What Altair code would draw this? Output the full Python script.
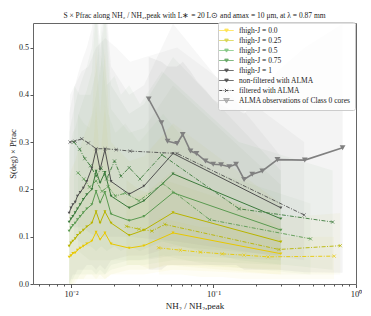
import altair as alt
import pandas as pd

FONT = "Liberation Serif"

series = ["f0", "f025", "f05", "f075", "f1"]
colors = ["#FFD700", "#C8C400", "#4CB04C", "#1E801E", "#000000"]

# ---- non-filtered simulations (solid lines, triangle markers)
x_nf = [0.0097, 0.0100, 0.0103, 0.0107, 0.0111, 0.0116, 0.0122, 0.0129, 0.0140,
        0.0150, 0.0160, 0.0173, 0.0191, 0.0256, 0.0325, 0.052, 0.297]
y_nf_f0 = [0.057, 0.060, 0.065, 0.066, 0.072, 0.076, 0.080, 0.085, 0.091, 0.110, 0.094, 0.108, 0.085, 0.076, 0.081, 0.108, 0.064]
y_nf_f025 = [0.080, 0.087, 0.091, 0.096, 0.103, 0.108, 0.114, 0.121, 0.129, 0.153, 0.129, 0.153, 0.129, 0.103, 0.114, 0.151, 0.089]
y_nf_f05 = [0.112, 0.119, 0.124, 0.129, 0.136, 0.143, 0.151, 0.159, 0.168, 0.196, 0.172, 0.194, 0.148, 0.134, 0.143, 0.193, 0.114]
y_nf_f075 = [0.131, 0.138, 0.143, 0.151, 0.159, 0.168, 0.179, 0.189, 0.200, 0.239, 0.214, 0.236, 0.186, 0.161, 0.176, 0.233, 0.138]
y_nf_f1 = [0.150, 0.161, 0.168, 0.173, 0.186, 0.194, 0.203, 0.217, 0.245, 0.284, 0.242, 0.284, 0.217, 0.190, 0.207, 0.276, 0.161]

# bands (min / max) of the non-filtered simulations
hi_nf_f0 = [0.15, 0.16, 0.17, 0.18, 0.19, 0.20, 0.21, 0.22, 0.25, 0.38, 0.26, 0.38, 0.22, 0.18, 0.19, 0.24, 0.12]
lo_nf_f0 = [0.00, 0.00, 0.00, 0.00, 0.01, 0.01, 0.01, 0.01, 0.01, 0.01, 0.01, 0.01, 0.02, 0.02, 0.02, 0.03, 0.02]
hi_nf_f025 = [0.22, 0.24, 0.25, 0.26, 0.28, 0.29, 0.31, 0.33, 0.36, 0.50, 0.36, 0.50, 0.30, 0.26, 0.27, 0.34, 0.17]
lo_nf_f025 = [0.00, 0.00, 0.00, 0.01, 0.01, 0.01, 0.01, 0.02, 0.02, 0.01, 0.02, 0.01, 0.02, 0.03, 0.03, 0.04, 0.03]
hi_nf_f05 = [0.28, 0.30, 0.32, 0.33, 0.35, 0.37, 0.39, 0.41, 0.45, 0.58, 0.44, 0.58, 0.37, 0.32, 0.33, 0.42, 0.21]
lo_nf_f05 = [0.00, 0.00, 0.01, 0.01, 0.01, 0.02, 0.02, 0.02, 0.02, 0.02, 0.02, 0.02, 0.03, 0.04, 0.04, 0.05, 0.04]
hi_nf_f075 = [0.32, 0.34, 0.36, 0.38, 0.40, 0.42, 0.44, 0.46, 0.50, 0.60, 0.48, 0.60, 0.42, 0.36, 0.38, 0.48, 0.24]
lo_nf_f075 = [0.00, 0.01, 0.01, 0.02, 0.02, 0.02, 0.03, 0.03, 0.03, 0.02, 0.03, 0.02, 0.04, 0.05, 0.05, 0.06, 0.05]
hi_nf_f1 = [0.36, 0.38, 0.40, 0.42, 0.44, 0.46, 0.48, 0.50, 0.54, 0.62, 0.50, 0.62, 0.46, 0.40, 0.42, 0.55, 0.27]
lo_nf_f1 = [0.00, 0.01, 0.02, 0.02, 0.03, 0.03, 0.03, 0.04, 0.04, 0.03, 0.04, 0.03, 0.05, 0.06, 0.06, 0.08, 0.06]

# ---- filtered with ALMA (dash-dot lines, x markers)
x_f_f0 = [0.0412, 0.0586, 0.081, 0.115, 0.164, 0.2416, 0.703]
y_f_f0 = [0.0765, 0.0715, 0.0673, 0.0638, 0.061, 0.0574, 0.0589]
hi_f_f0 = [0.14, 0.13, 0.12, 0.12, 0.11, 0.10, 0.10]
lo_f_f0 = [0.02, 0.02, 0.015, 0.015, 0.01, 0.01, 0.01]

x_f_f025 = [0.0245, 0.0300, 0.0370, 0.0455, 0.288, 0.776]
y_f_f025 = [0.122, 0.116, 0.112, 0.126, 0.073, 0.081]
hi_f_f025 = [0.22, 0.20, 0.19, 0.22, 0.14, 0.15]
lo_f_f025 = [0.04, 0.04, 0.03, 0.04, 0.02, 0.02]

x_f_f05 = [0.0112, 0.0123, 0.0135, 0.0150, 0.0165, 0.0182, 0.0205, 0.0240, 0.0300, 0.0443, 0.094, 0.48]
y_f_f05 = [0.235, 0.222, 0.205, 0.218, 0.196, 0.206, 0.186, 0.192, 0.176, 0.212, 0.136, 0.0955]
hi_f_f05 = [0.36, 0.34, 0.33, 0.40, 0.48, 0.36, 0.32, 0.34, 0.30, 0.36, 0.24, 0.17]
lo_f_f05 = [0.07, 0.06, 0.05, 0.05, 0.05, 0.05, 0.05, 0.05, 0.05, 0.06, 0.04, 0.02]

x_f_f075 = [0.0105, 0.0115, 0.0125, 0.0137, 0.0150, 0.0163, 0.0178, 0.0202, 0.0224, 0.0256, 0.0305, 0.0435, 0.151, 0.686]
y_f_f075 = [0.300, 0.285, 0.265, 0.250, 0.228, 0.245, 0.222, 0.260, 0.228, 0.246, 0.222, 0.273, 0.159, 0.131]
hi_f_f075 = [0.42, 0.40, 0.40, 0.40, 0.45, 0.56, 0.42, 0.44, 0.40, 0.42, 0.38, 0.45, 0.30, 0.24]
lo_f_f075 = [0.10, 0.09, 0.08, 0.08, 0.07, 0.08, 0.07, 0.08, 0.07, 0.08, 0.07, 0.09, 0.05, 0.03]

x_f_f1 = [0.00984, 0.01067, 0.0119, 0.01324, 0.0150, 0.01734, 0.02075, 0.0260, 0.0555, 0.4325]
y_f_f1 = [0.300, 0.302, 0.307, 0.298, 0.286, 0.286, 0.284, 0.281, 0.276, 0.146]
hi_f_f1 = [0.40, 0.42, 0.45, 0.46, 0.50, 0.52, 0.50, 0.47, 0.50, 0.30]
lo_f_f1 = [0.12, 0.12, 0.12, 0.11, 0.10, 0.10, 0.10, 0.10, 0.09, 0.05]

# ---- ALMA observations of Class 0 cores
x_alma = [0.0351, 0.0431, 0.0476, 0.0555, 0.0608, 0.0689, 0.0759, 0.0879, 0.0995,
          0.113, 0.129, 0.144, 0.164, 0.187, 0.220, 0.281, 0.437, 0.805]
y_alma = [0.391, 0.341, 0.302, 0.297, 0.316, 0.281, 0.276, 0.260, 0.253,
          0.252, 0.248, 0.253, 0.221, 0.232, 0.239, 0.263, 0.262, 0.288]
hi_alma = [0.48, 0.47, 0.46, 0.46, 0.47, 0.45, 0.43, 0.41, 0.39,
           0.38, 0.37, 0.37, 0.36, 0.38, 0.41, 0.45, 0.50, 0.55]
lo_alma = [0.03, 0.03, 0.04, 0.04, 0.04, 0.04, 0.04, 0.04, 0.04,
           0.04, 0.04, 0.04, 0.03, 0.03, 0.03, 0.03, 0.025, 0.024]

legend_labels = ["fhigh-J = 0.0", "fhigh-J = 0.25", "fhigh-J = 0.5", "fhigh-J = 0.75",
                 "fhigh-J = 1", "non-filtered with ALMA", "filtered with ALMA",
                 "ALMA observations of Class 0 cores"]
x_ticks = [0.006, 0.007, 0.008, 0.009, 0.01, 0.02, 0.03, 0.04, 0.05, 0.06, 0.07, 0.08, 0.09,
           0.1, 0.2, 0.3, 0.4, 0.5, 0.6, 0.7, 0.8, 0.9, 1]
y_ticks = [0.0, 0.1, 0.2, 0.3, 0.4, 0.5]


def table(xs, ys, his=None, los=None):
    rows = []
    for i, s in enumerate(series):
        for j, xv in enumerate(xs[i]):
            r = {"series": s, "x": xv, "y": ys[i][j]}
            if his is not None:
                r["hi"] = his[i][j]
                r["lo"] = los[i][j]
            rows.append(r)
    return pd.DataFrame(rows)


nf = table([x_nf] * 5, [y_nf_f0, y_nf_f025, y_nf_f05, y_nf_f075, y_nf_f1],
           [hi_nf_f0, hi_nf_f025, hi_nf_f05, hi_nf_f075, hi_nf_f1],
           [lo_nf_f0, lo_nf_f025, lo_nf_f05, lo_nf_f075, lo_nf_f1])
fl = table([x_f_f0, x_f_f025, x_f_f05, x_f_f075, x_f_f1],
           [y_f_f0, y_f_f025, y_f_f05, y_f_f075, y_f_f1],
           [hi_f_f0, hi_f_f025, hi_f_f05, hi_f_f075, hi_f_f1],
           [lo_f_f0, lo_f_f025, lo_f_f05, lo_f_f075, lo_f_f1])
alma = pd.DataFrame({"x": x_alma, "y": y_alma, "hi": hi_alma, "lo": lo_alma})

xscale = alt.Scale(type="log", domain=[0.005412, 1], nice=False)
yscale = alt.Scale(domain=[0, 0.5518], nice=False, zero=False)
cscale = alt.Scale(domain=series, range=colors)
band_colors = ["#E8C800", "#B8B400", "#5A9A50", "#3C7A3C", "#505050"]
bscale = alt.Scale(domain=series, range=band_colors)

major = "indexof([0.01, 0.1, 1], datum.value) >= 0"
xaxis = alt.Axis(values=x_ticks, title="NH₂ / NH₂,peak", grid=False,
                 labelExpr="datum.value === 0.01 ? '10⁻²' : datum.value === 0.1 ? '10⁻¹' : datum.value === 1 ? '10⁰' : ''",
                 labelFlush=False, labelOverlap=False,
                 tickSize={"condition": {"test": major, "value": 3.5}, "value": 2})
yaxis = alt.Axis(values=y_ticks, format=".1f", title="S(deg) × Pfrac", grid=False,
                 tickSize=3, labelPadding=1.5, titlePadding=1.5, labelFontSize=8, titleFontSize=8.5)

X = alt.X("x:Q", scale=xscale, axis=xaxis)
Y = alt.Y("y:Q", scale=yscale, axis=yaxis)
C = alt.Color("series:N", scale=cscale, legend=None)
B = alt.Color("series:N", scale=bscale, legend=None)

band_nf = alt.Chart(nf).mark_area(opacity=0.045, clip=True).encode(
    x=alt.X("x:Q", scale=xscale), y=alt.Y("lo:Q", scale=yscale), y2="hi:Q", color=B)
band_fl = alt.Chart(fl).mark_area(opacity=0.04, clip=True).encode(
    x=alt.X("x:Q", scale=xscale), y=alt.Y("lo:Q", scale=yscale), y2="hi:Q", color=B)
band_alma = alt.Chart(alma).mark_area(opacity=0.09, color="#808080", clip=True).encode(
    x=alt.X("x:Q", scale=xscale), y=alt.Y("lo:Q", scale=yscale), y2="hi:Q")

line_nf = alt.Chart(nf).mark_line(strokeWidth=1, clip=True).encode(x=X, y=Y, color=C)
pts_nf = alt.Chart(nf).mark_point(shape="triangle-down", filled=True, size=9, opacity=1, clip=True).encode(
    x=X, y=Y, color=C)
line_fl = alt.Chart(fl).mark_line(strokeWidth=0.9, strokeDash=[4, 1.5, 1, 1.5], clip=True).encode(
    x=X, y=Y, color=C)
pts_fl = alt.Chart(fl).mark_point(shape="M-1,-1L1,1M-1,1L1,-1", filled=False, size=10,
                                  strokeWidth=0.7, opacity=1, clip=True).encode(x=X, y=Y, color=C)
line_alma = alt.Chart(alma).mark_line(strokeWidth=1.6, color="#808080").encode(x=X, y=Y)
pts_alma = alt.Chart(alma).mark_point(shape="triangle-down", filled=True, size=34,
                                      color="#808080", opacity=1).encode(x=X, y=Y)

tri = "M-1.8,0H1.8M-0.45,-0.35H0.45L0,0.4Z"
xm = "M-1.8,0H1.8M-0.4,-0.4L0.4,0.4M-0.4,0.4L0.4,-0.4"
big = "M-1.8,0H1.8M-0.7,-0.5H0.7L0,0.65Z"
leg_colors = colors + ["#000000", "#000000", "#808080"]
leg_shapes = [tri, tri, tri, tri, tri, tri, xm, big]
leg_dash = [[1, 0]] * 6 + [[3, 1.2, 0.8, 1.2]] + [[1, 0]]
legend = alt.Legend(orient="none", legendX=185, legendY=-1, title=None,
                    labelFont=FONT, labelFontSize=7.5, labelColor="#222",
                    symbolSize=64, symbolStrokeWidth=1, labelOffset=8, padding=4,
                    rowPadding=1.0, fillColor="rgba(255,255,255,0.8)",
                    strokeColor="#cccccc", cornerRadius=2, symbolLimit=0)
leg_layer = alt.Chart(alt.Data(values=[])).mark_point(size=64, strokeWidth=1).encode(
    fill=alt.Fill("label:N", scale=alt.Scale(domain=legend_labels, range=leg_colors), legend=legend),
    stroke=alt.Stroke("label:N", scale=alt.Scale(domain=legend_labels, range=leg_colors), legend=legend),
    shape=alt.Shape("label:N", scale=alt.Scale(domain=legend_labels, range=leg_shapes), legend=legend),
    strokeDash=alt.StrokeDash("label:N", scale=alt.Scale(domain=legend_labels, range=leg_dash), legend=legend),
)

chart = alt.layer(
    band_nf, band_fl, band_alma, line_nf, line_fl, pts_nf, pts_fl, line_alma, pts_alma, leg_layer
).properties(
    width=323, height=261,
    padding={"left": 25, "top": 15, "right": 6, "bottom": 26},
    autosize=alt.AutoSizeParams(type="none"),
    title=alt.TitleParams(
        text="S × Pfrac along NH₂ / NH₂,peak with L∗ = 20 L⊙ and amax = 10 μm, at λ = 0.87 mm",
        font=FONT, fontSize=7.5, fontWeight="normal", color="#222", offset=2, anchor="middle"),
).configure_view(stroke="#666666", strokeWidth=1).configure_axis(
    domain=False, labelFont=FONT, titleFont=FONT, labelFontSize=8.5, titleFontSize=9,
    labelColor="#222", titleColor="#222", tickColor="#555", titleFontWeight="normal",
    labelPadding=2, titlePadding=3,
)

chart.save("out.html", embed_options={"renderer": "svg", "actions": False})
